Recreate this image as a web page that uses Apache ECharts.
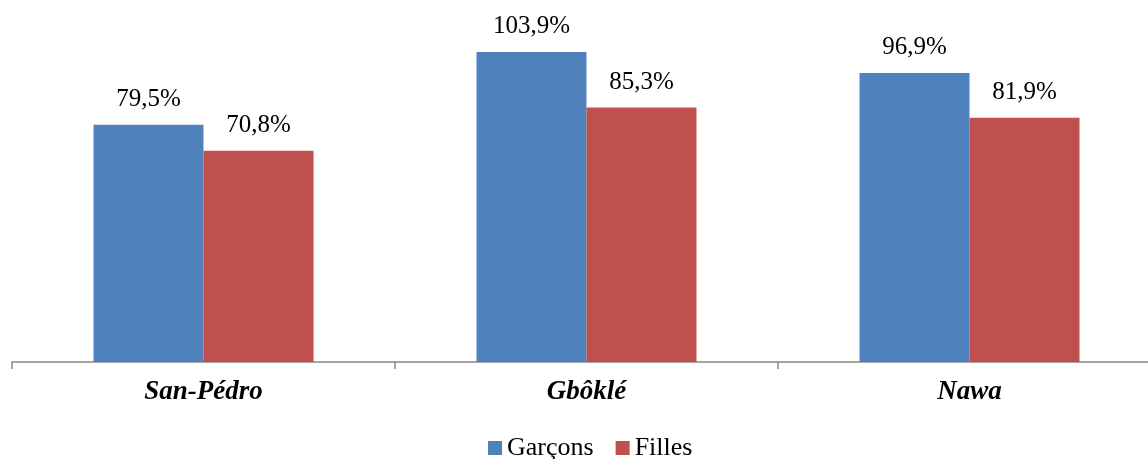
<!DOCTYPE html>
<html>
<head>
<meta charset="utf-8">
<script src="https://cdn.jsdelivr.net/npm/echarts@6/dist/echarts.min.js"></script>
<style>
html,body{margin:0;padding:0;background:#fff;}
#chart{width:1148px;height:459px;}
</style>
</head>
<body>
<div id="chart"></div>
<script>
const categories = ['San-Pédro', 'Gbôklé', 'Nawa'];
const garcons = [79.5, 103.9, 96.9];
const filles = [70.8, 85.3, 81.9];
const seriesNames = ['Garçons', 'Filles'];

const fmt = p => p.value.toFixed(1).replace('.', ',') + '%';
const serif = '"Liberation Serif", "Times New Roman", serif';

const chart = echarts.init(document.getElementById('chart'));
chart.setOption({
  animation: false,
  legend: {
    data: seriesNames,
    left: 483,
    top: 430,
    itemWidth: 14,
    itemHeight: 14,
    itemGap: 22,
    icon: 'rect',
    textStyle: { fontFamily: serif, fontSize: 26, color: '#000' }
  },
  grid: { left: 12, top: 4, width: 1149, bottom: 97, containLabel: false, outerBoundsMode: 'none' },
  xAxis: {
    type: 'category',
    data: categories,
    axisLine: { lineStyle: { color: '#868686', width: 1.5 } },
    axisTick: { show: true, length: 7, lineStyle: { color: '#868686', width: 1.5 } },
    axisLabel: {
      margin: 17,
      fontFamily: serif,
      fontSize: 27,
      fontWeight: 'bold',
      fontStyle: 'italic',
      color: '#000'
    }
  },
  yAxis: {
    type: 'value',
    min: 0,
    max: 120,
    show: false,
    splitLine: { show: false }
  },
  series: [
    {
      name: seriesNames[0],
      type: 'bar',
      data: garcons,
      barWidth: 110,
      barGap: '0%',
      itemStyle: { color: '#4F81BD' },
      label: { show: true, position: 'top', distance: 13, formatter: fmt,
               fontFamily: serif, fontSize: 25, color: '#000' }
    },
    {
      name: seriesNames[1],
      type: 'bar',
      data: filles,
      barWidth: 110,
      barGap: '0%',
      itemStyle: { color: '#C0504D' },
      label: { show: true, position: 'top', distance: 13, formatter: fmt,
               fontFamily: serif, fontSize: 25, color: '#000' }
    }
  ]
});
</script>
</body>
</html>
